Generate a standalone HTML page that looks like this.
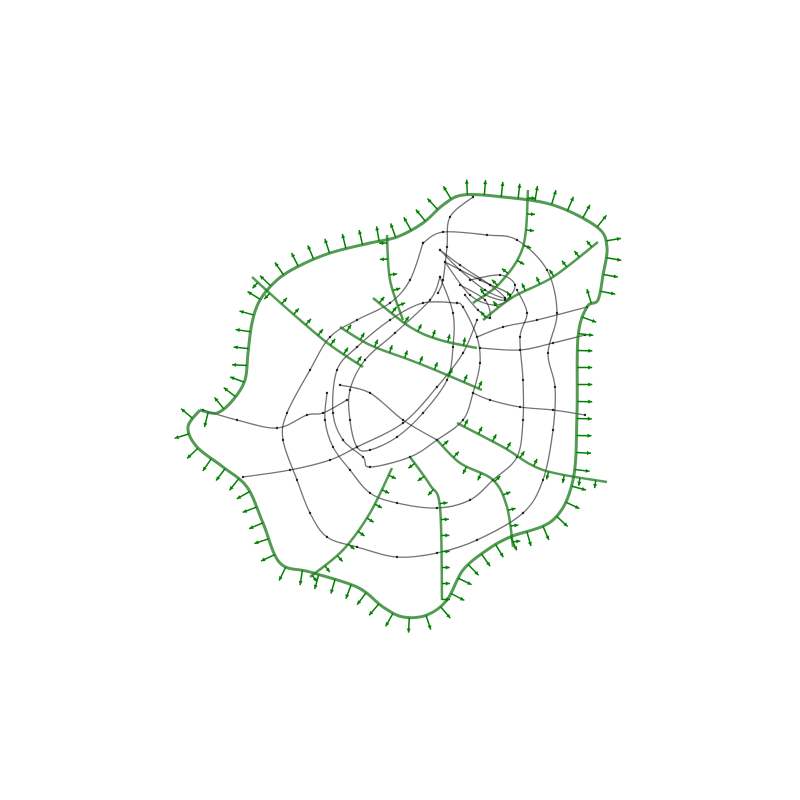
<!DOCTYPE html>
<html><head><meta charset="utf-8"><style>
html,body{margin:0;padding:0;background:#fff;}
svg{display:block;}
</style></head><body>
<svg id="chart" width="800" height="800" viewBox="0 0 800 800">
<g id="gray"></g>
<g id="green"></g>
<g id="arrows"></g>
</svg>
<script>
const boundary=[[200,410],[217,413],[233,400],[245,380],[248,353],[252,323],[260,300],[277,280],[297,267],[330,253],[370,243],[397,237],[423,223],[443,205],[463,195],[503,197],[553,205],[597,227],[607,247],[603,275],[598,300],[587,307],[578,337],[577,413],[573,480],[553,520],[510,537],[487,550],[463,570],[447,600],[427,615],[403,617],[383,607],[357,587],[310,572],[280,563],[263,523],[247,487],[223,467],[197,447],[188,427],[200,410]];
const greenLines=[
[[252,277],[275,298],[300,320],[330,345],[363,367]],
[[340,327],[370,345],[410,360],[440,372],[482,390]],
[[373,298],[410,327],[440,340],[477,348]],
[[387,235],[390,280],[403,320]],
[[528,190],[523,247],[500,283],[473,303]],
[[598,242],[553,277],[513,297],[483,320]],
[[457,423],[503,447],[543,470],[607,482]],
[[437,440],[460,463],[493,480],[507,507],[513,547]],
[[410,457],[430,485],[440,507],[442,600]],
[[392,468],[370,513],[343,550],[310,577]]
];
const grayLines=[
[[473,197],[450,217],[447,247],[443,280],[438,293]],
[[423,243],[443,232],[487,235],[517,240],[547,270],[557,313],[548,353],[555,387],[553,430],[543,480],[523,513],[477,540],[437,553],[397,557],[357,547],[327,537],[310,513],[297,480],[283,440],[287,413],[310,370],[330,337],[357,320],[390,303],[410,280],[423,243]],
[[440,277],[453,313],[453,347],[447,380],[423,413],[397,437],[370,450],[357,447],[350,420],[350,390],[365,360],[395,333],[430,300],[440,277]],
[[457,303],[423,303],[390,320],[357,347],[337,370],[333,413],[343,440],[363,457],[370,467],[410,457],[437,440],[463,420],[473,393],[480,363],[477,337],[463,307],[457,303]],
[[327,393],[325,420],[333,447],[350,470],[370,493],[397,503],[437,508],[470,500],[493,480],[517,457],[523,420],[523,380],[520,337],[527,313],[517,290]],
[[203,410],[237,420],[277,428],[307,415],[323,413],[347,400]],
[[243,477],[290,470],[330,460],[357,447],[403,423],[437,387],[463,353],[477,320]],
[[340,385],[370,393],[403,420],[437,440]],
[[473,393],[490,400],[520,407],[553,410],[585,415]],
[[477,337],[503,327],[537,320],[587,307]],
[[480,348],[520,350],[553,343],[585,335]],
[[440,250],[460,270],[485,290],[505,298],[490,285],[460,265],[440,250]],
[[445,262],[470,295],[495,305],[510,295],[480,280],[445,262]],
[[460,285],[485,300],[490,318],[478,310],[465,295]],
[[470,280],[500,275],[515,285],[505,300],[485,295]]
];
const NS='http://www.w3.org/2000/svg';
function smooth(p){let d='M'+p[0][0]+','+p[0][1];for(let i=0;i<p.length-1;i++){const a=p[Math.max(i-1,0)],b=p[i],c=p[i+1],e=p[Math.min(i+2,p.length-1)];d+=' C'+(b[0]+(c[0]-a[0])/6)+','+(b[1]+(c[1]-a[1])/6)+' '+(c[0]-(e[0]-b[0])/6)+','+(c[1]-(e[1]-b[1])/6)+' '+c[0]+','+c[1];}return d;}
function mk(tag,attrs,parent){const el=document.createElementNS(NS,tag);for(const k in attrs)el.setAttribute(k,attrs[k]);parent.appendChild(el);return el;}
const G=document.getElementById('gray'),GR=document.getElementById('green'),AR=document.getElementById('arrows');
grayLines.forEach(p=>{const el=mk('path',{d:smooth(p),fill:'none',stroke:'#000','stroke-opacity':0.55,'stroke-width':1.3},G);


p.forEach(q=>{const c=mk('circle',{cx:q[0],cy:q[1],r:1.2,fill:'#222'},G);

});});
function greenPath(p,w){const el=mk('path',{d:smooth(p),fill:'none',stroke:'#1a7a1a','stroke-opacity':0.75,'stroke-width':w},GR);

return el;}
function arrows(p,len,step){const path=mk('path',{d:smooth(p),fill:'none',stroke:'none'},AR);const L=path.getTotalLength();
for(let s=step/2;s<L;s+=step){const a=path.getPointAtLength(s),b=path.getPointAtLength(Math.min(L,s+1));let tx=b.x-a.x,ty=b.y-a.y;const n=Math.hypot(tx,ty)||1;let nx=-ty/n,ny=tx/n;
if((a.x-400)*nx+(a.y-410)*ny<0){nx=-nx;ny=-ny;}
const x2=a.x+nx*len,y2=a.y+ny*len;
const l=mk('line',{x1:a.x,y1:a.y,x2:x2,y2:y2,stroke:'#008000','stroke-width':1.5},AR);


const h=mk('polygon',{points:x2+','+y2+' '+(x2-nx*4+ny*2)+','+(y2-ny*4-nx*2)+' '+(x2-nx*4-ny*2)+','+(y2-ny*4+nx*2),fill:'#008000'},AR);

}}
greenPath(boundary,3);
arrows(boundary,15,17);
greenLines.forEach(p=>{greenPath(p,2.5);arrows(p,8,16);});
</script>
</body></html>
